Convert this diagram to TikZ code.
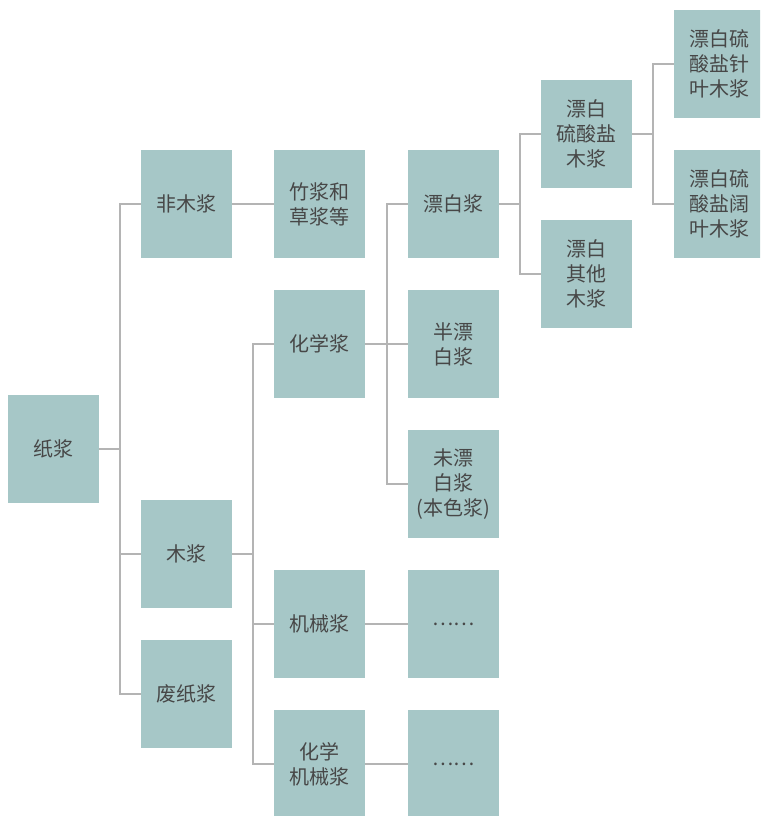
\documentclass[tikz,border=0pt]{standalone}
\usepackage{fontspec}
\newfontfamily\cjk{Noto Sans CJK SC}
\usepackage{xcolor}
\usepackage{tikz}
\usetikzlibrary{positioning,calc}
\definecolor{boxfill}{HTML}{A6C7C7}
\definecolor{boxtext}{HTML}{474747}
\definecolor{linegray}{HTML}{B4B4B4}

\begin{document}
\begin{tikzpicture}[x=1pt,y=-1pt,
    box/.style={fill=boxfill,text=boxtext,minimum width=91pt,minimum height=108pt,
      text width=91pt,inner sep=0pt,align=center,font=\cjk\fontsize{20}{25}\selectfont},
    link/.style={draw=linegray,line width=1.6pt}]
  % page frame
  \clip (0,0) rectangle (760,816);

  % level 1 and 2
  \node[box] (zj)  at (53.5,449) {纸浆};
  \node[box] (fmj) at (186.5,204) {非木浆};
  \node[box] (mj)  at (186.5,554) {木浆};
  \node[box] (fzj) at (186.5,694) {废纸浆};

  % level 3
  \node[box] (zcj)   at (319.5,204) {竹浆和\\草浆等};
  \node[box] (hxj)   at (319.5,344) {化学浆};
  \node[box] (jxj)   at (319.5,624) {机械浆};
  \node[box] (hxjxj) at (319.5,764) {化学\\机械浆};

  % level 4
  \node[box] (pbj)   at (453.5,204) {漂白浆};
  \node[box] (bpbj)  at (453.5,344) {半漂\\白浆};
  \node[box] (wpbj)  at (453.5,484) {未漂\\白浆\\(本色浆)};
  \node[box] (dotsa) at (453.5,624) {……};
  \node[box] (dotsb) at (453.5,764) {……};

  % level 5 and 6
  \node[box] (lsy) at (586.5,134) {漂白\\硫酸盐\\木浆};
  \node[box] (qt)  at (586.5,274) {漂白\\其他\\木浆};
  \node[box] (zy)  at (719.5,64)  {漂白硫\\酸盐针\\叶木浆};
  \node[box] (ky)  at (719.5,204) {漂白硫\\酸盐阔\\叶木浆};

  % connectors
  \foreach \c in {fmj,mj,fzj}
    \draw[link] (zj.east) -- ++(21,0) |- (\c.west);
  \draw[link] (fmj) -- (zcj);
  \foreach \c in {hxj,jxj,hxjxj}
    \draw[link] (mj.east) -- ++(21,0) |- (\c.west);
  \foreach \c in {pbj,bpbj,wpbj}
    \draw[link] (hxj.east) -- ++(21.5,0) |- (\c.west);
  \draw[link] (jxj) -- (dotsa);
  \draw[link] (hxjxj) -- (dotsb);
  \foreach \c in {lsy,qt}
    \draw[link] (pbj.east) -- ++(20.5,0) |- (\c.west);
  \foreach \c in {zy,ky}
    \draw[link] (lsy.east) -- ++(21,0) |- (\c.west);
\end{tikzpicture}
\end{document}
